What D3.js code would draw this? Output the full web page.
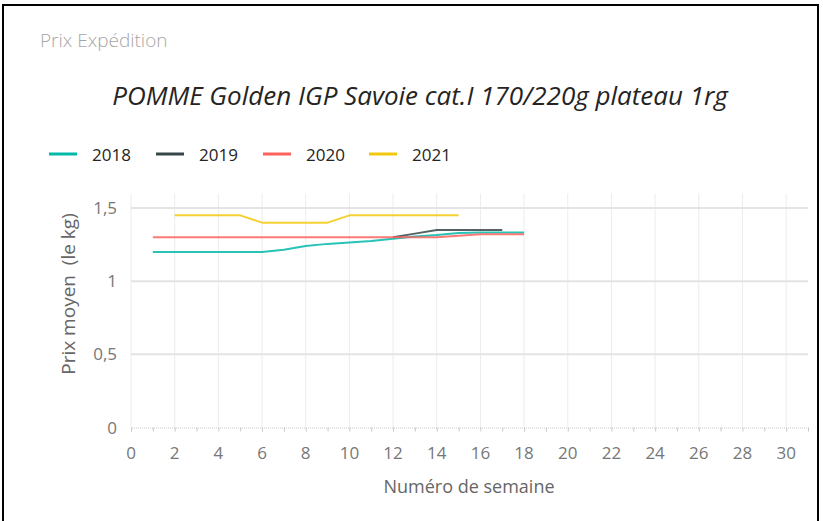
<!DOCTYPE html>
<html><head><meta charset="utf-8">
<script src="https://cdn.jsdelivr.net/npm/d3@7"></script>
<style>body{margin:0;background:#fff;} text{font-family:"Segoe UI","Open Sans","Noto Sans",sans-serif;}</style>
</head><body>
<svg id="chart" width="823" height="521"></svg>
<script>
const series = ["2018","2019","2020","2021"];
const colors = ["#01B8AA","#374649","#FD625E","#F2C80F"];
const weeks2018 = [1,2,3,4,5,6,7,8,9,10,11,12,13,14,15,16,17,18];
const values2018 = [1.2,1.2,1.2,1.2,1.2,1.2,1.215,1.24,1.255,1.265,1.275,1.29,1.305,1.315,1.33,1.333,1.333,1.333];
const weeks2019 = [12,13,14,15,16,17];
const values2019 = [1.3,1.325,1.35,1.35,1.35,1.35];
const weeks2020 = [1,2,3,4,5,6,7,8,9,10,11,12,13,14,15,16,17,18];
const values2020 = [1.3,1.3,1.3,1.3,1.3,1.3,1.3,1.3,1.3,1.3,1.3,1.3,1.3,1.3,1.31,1.32,1.32,1.32];
const weeks2021 = [2,3,4,5,6,7,8,9,10,11,12,13,14,15];
const values2021 = [1.45,1.45,1.45,1.45,1.4,1.4,1.4,1.4,1.45,1.45,1.45,1.45,1.45,1.45];
const xTicks = [0,2,4,6,8,10,12,14,16,18,20,22,24,26,28,30];
const yTicks = [0,0.5,1,1.5];
const yTickLabels = ["0","0,5","1","1,5"];

const data = [
  {name:series[0], color:colors[0], pts:weeks2018.map((w,i)=>[w,values2018[i]])},
  {name:series[1], color:colors[1], pts:weeks2019.map((w,i)=>[w,values2019[i]])},
  {name:series[2], color:colors[2], pts:weeks2020.map((w,i)=>[w,values2020[i]])},
  {name:series[3], color:colors[3], pts:weeks2021.map((w,i)=>[w,values2021[i]])}
];

const svg = d3.select("#chart");
// frame
svg.append("path").attr("d","M3,530 L3,5 L818,5 L818,530").attr("fill","none").attr("stroke","#000").attr("stroke-width",2);

svg.append("text").attr("x",40).attr("y",47).attr("font-size",19).attr("font-weight",300).attr("fill","#a6a6a6").text("Prix Expédition");
svg.append("text").attr("x",420).attr("y",105).attr("text-anchor","middle").attr("font-size",26).attr("font-style","italic").attr("fill","#252423").text("POMME Golden IGP Savoie cat.I 170/220g plateau 1rg");

const x = d3.scaleLinear().domain([0,31]).range([131,808]);
const y = d3.scaleLinear().domain([0,1.6]).range([427.5,193.4]);

// gridlines
svg.append("g").selectAll("line").data(xTicks).join("line")
  .attr("x1",d=>x(d)).attr("x2",d=>x(d)).attr("y1",y(1.6)).attr("y2",y(0))
  .attr("stroke","#ececec").attr("stroke-width",1);
svg.append("g").selectAll("line").data(yTicks.filter(d=>d>0)).join("line")
  .attr("x1",x(0)).attr("x2",x(31)).attr("y1",d=>y(d)).attr("y2",d=>y(d))
  .attr("stroke","#e4e4e4").attr("stroke-width",2);

// x axis with minor ticks
const xAxis = d3.axisBottom(x).tickValues(d3.range(0,32,1)).tickSize(4).tickFormat("");
const gx = svg.append("g").attr("transform",`translate(0,${y(0)})`).call(xAxis);
gx.select(".domain").attr("stroke","#c8c8c8").attr("stroke-dasharray","1,1");
gx.selectAll(".tick line").attr("stroke","#c8c8c8");
svg.append("g").selectAll("text").data(xTicks).join("text")
  .attr("x",d=>x(d)).attr("y",459).attr("text-anchor","middle").attr("font-size",17).attr("fill","#777")
  .text(d=>d);
svg.append("g").selectAll("text").data(yTicks).join("text")
  .attr("x",117).attr("y",d=>y(d)+6).attr("text-anchor","end").attr("font-size",17).attr("fill","#777")
  .text((d,i)=>yTickLabels[i]);

svg.append("text").attr("x",469).attr("y",493).attr("text-anchor","middle").attr("font-size",18).attr("fill","#666").text("Numéro de semaine");
svg.append("text").attr("transform","translate(75,294) rotate(-90)").attr("text-anchor","middle").attr("font-size",19)
  .style("white-space","pre").attr("fill","#666").text("Prix moyen  (le kg)");

// lines
const line = d3.line().x(d=>x(d[0])).y(d=>y(d[1]));
svg.append("g").selectAll("path").data(data).join("path")
  .attr("d",d=>line(d.pts)).attr("fill","none").attr("stroke",d=>d.color).attr("stroke-width",2)
  .attr("stroke-opacity",0.85).attr("stroke-linejoin","round");

// legend
const legX = [49,156,263,369];
const lg = svg.append("g").selectAll("g").data(data).join("g").attr("transform",(d,i)=>`translate(${legX[i]},154)`);
lg.append("line").attr("x1",0).attr("x2",28).attr("y1",0).attr("y2",0).attr("stroke",d=>d.color).attr("stroke-width",3);
lg.append("text").attr("x",43).attr("y",7).attr("font-size",17).attr("fill","#252423").text(d=>d.name);
</script>
</body></html>
